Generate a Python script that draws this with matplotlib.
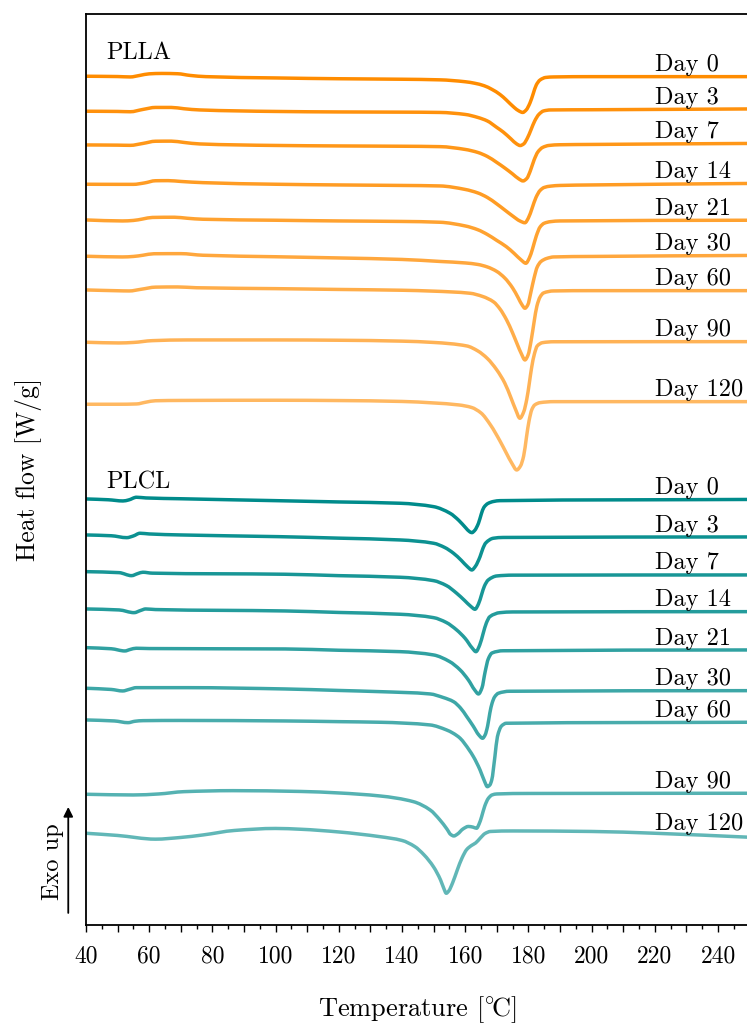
import numpy as np
import matplotlib
matplotlib.use("Agg")
import matplotlib.pyplot as plt
from matplotlib.ticker import MultipleLocator, FuncFormatter
from matplotlib.colors import to_rgb
from matplotlib.path import Path
from matplotlib.patches import PathPatch

plt.rcParams.update({
    "font.family": "serif",
    "font.serif": ["cmr10"],
    "mathtext.fontset": "cm",
    "axes.formatter.use_mathtext": True,
})

# ---------------------------------------------------------------------------
# DSC traces (temperature in degC, heat flow in W/g, already stacked)
# ---------------------------------------------------------------------------
day_labels = ["Day 0", "Day 3", "Day 7", "Day 14", "Day 21",
              "Day 30", "Day 60", "Day 90", "Day 120"]

# PLLA
plla_d0_T = [40, 50, 54, 57, 60, 64, 69, 73, 78, 100, 120, 140, 152, 160, 163, 166, 168.5, 171,
             173, 175.5, 177, 178.2, 179.3, 180.5, 181.5, 182.5, 183.7, 185.5, 188, 200, 250]
plla_d0_hf = [-0.763, -0.766, -0.770, -0.755, -0.739, -0.735, -0.738, -0.755, -0.767, -0.780,
              -0.788, -0.793, -0.799, -0.818, -0.833, -0.858, -0.895, -0.945, -1.00, -1.075,
              -1.11, -1.125, -1.10, -1.03, -0.94, -0.85, -0.80, -0.775, -0.77, -0.767, -0.767]

plla_d3_T = [40, 50, 54, 58, 62, 67, 71, 76, 100, 120, 140, 152, 160, 164, 167, 170, 172,
             174.5, 176.3, 177.4, 178.5, 179.7, 180.8, 182, 183.3, 184.8, 187, 200, 250]
plla_d3_hf = [-1.113, -1.115, -1.118, -1.095, -1.075, -1.075, -1.088, -1.100, -1.115, -1.120,
              -1.122, -1.125, -1.145, -1.175, -1.21, -1.275, -1.32, -1.39, -1.44, -1.456, -1.44,
              -1.38, -1.30, -1.21, -1.145, -1.11, -1.10, -1.098, -1.09]

plla_d7_T = [40, 50, 54, 58, 62, 67, 71, 76, 100, 120, 140, 152, 160, 164, 167, 170, 172.5,
             175, 177, 178.3, 179.5, 180.6, 181.8, 183, 184.5, 186.5, 190, 200, 250]
plla_d7_hf = [-1.450, -1.452, -1.454, -1.435, -1.413, -1.412, -1.425, -1.440, -1.455, -1.460,
              -1.463, -1.467, -1.495, -1.525, -1.565, -1.625, -1.68, -1.74, -1.79, -1.81,
              -1.785, -1.71, -1.60, -1.52, -1.475, -1.455, -1.448, -1.445, -1.435]

plla_d14_T = [40, 50, 55, 58.5, 62, 66, 70, 77, 100, 120, 140, 152, 160, 164, 167, 170, 172.5,
              175, 177.3, 178.9, 180, 181.2, 182.4, 183.7, 185, 187, 190, 200, 250]
plla_d14_hf = [-1.843, -1.844, -1.844, -1.830, -1.808, -1.807, -1.815, -1.827, -1.843, -1.850,
               -1.855, -1.860, -1.895, -1.93, -1.975, -2.04, -2.10, -2.16, -2.21, -2.228,
               -2.18, -2.08, -1.975, -1.905, -1.875, -1.862, -1.855, -1.85, -1.835]

plla_d21_T = [40, 51.5, 55, 58, 61, 68, 72, 77, 100, 120, 140, 152, 160, 164, 167, 170, 173,
              175.5, 177.7, 179.2, 180.3, 181.3, 182.5, 183.7, 185, 187, 190, 250]
plla_d21_hf = [-2.200, -2.210, -2.205, -2.190, -2.175, -2.173, -2.183, -2.193, -2.203, -2.210,
               -2.215, -2.223, -2.26, -2.298, -2.345, -2.405, -2.467, -2.535, -2.60, -2.633,
               -2.58, -2.49, -2.36, -2.27, -2.233, -2.217, -2.21, -2.203]

plla_d30_T = [40, 51.5, 55, 58, 61.5, 70, 77, 100, 120, 140, 152, 160, 164, 167, 170, 172.5,
              175, 176.8, 178.1, 178.9, 179.8, 180.8, 181.8, 182.8, 184, 185.8, 188, 200, 250]
plla_d30_hf = [-2.563, -2.570, -2.565, -2.553, -2.538, -2.537, -2.553, -2.568, -2.580, -2.595,
               -2.615, -2.630, -2.645, -2.67, -2.715, -2.78, -2.88, -2.98, -3.055, -3.083,
               -3.05, -2.92, -2.78, -2.67, -2.615, -2.585, -2.57, -2.565, -2.555]

plla_d60_T = [40, 50, 53.7, 57.5, 62, 69, 75, 100, 120, 140, 150, 161.5, 165.5, 169, 171, 173.1,
              175, 176.5, 177.8, 178.9, 179.9, 180.9, 181.8, 182.7, 183.7, 184.8, 187.9, 200, 250]
plla_d60_hf = [-2.900, -2.908, -2.910, -2.893, -2.872, -2.870, -2.878, -2.887, -2.895, -2.903,
               -2.912, -2.933, -2.965, -3.02, -3.09, -3.20, -3.33, -3.445, -3.54, -3.60,
               -3.55, -3.40, -3.22, -3.06, -2.97, -2.93, -2.91, -2.907, -2.907]

plla_d90_T = [40, 50.4, 55, 61, 72, 100, 120, 140, 150, 160.5, 164, 167, 170, 172.5, 174.5, 176,
              177.3, 178.5, 179.5, 180.3, 181, 181.9, 182.8, 184.5, 188, 250]
plla_d90_hf = [-3.423, -3.430, -3.425, -3.407, -3.400, -3.400, -3.403, -3.412, -3.425, -3.46,
               -3.51, -3.585, -3.70, -3.83, -3.98, -4.10, -4.183, -4.12, -3.99, -3.83, -3.68,
               -3.54, -3.46, -3.427, -3.418, -3.417]

plla_d120_T = [40, 50, 56, 59, 62, 70, 100, 120, 140, 150, 158, 162, 165, 168, 171, 173, 174.8,
               176.3, 177.5, 178.5, 179.4, 180.2, 181.1, 182, 183.7, 188, 250]
plla_d120_hf = [-4.043, -4.043, -4.040, -4.022, -4.008, -4.005, -4.003, -4.006, -4.015, -4.030,
                -4.05, -4.075, -4.13, -4.25, -4.41, -4.53, -4.635, -4.70, -4.66, -4.56, -4.37,
                -4.21, -4.095, -4.05, -4.027, -4.017, -4.017]

# PLCL
plcl_d0_T = [40, 47, 51.7, 53.5, 56, 59, 70, 100, 120, 139.4, 150, 155.2, 158, 160.2, 161.3,
             162.1, 163, 164.2, 165.1, 165.9, 167.2, 169, 171, 250]
plcl_d0_hf = [-4.990, -4.998, -5.010, -5.000, -4.973, -4.980, -4.988, -5.007, -5.020, -5.033,
              -5.067, -5.133, -5.205, -5.28, -5.315, -5.327, -5.305, -5.233, -5.14, -5.075,
              -5.035, -5.015, -5.007, -4.995]

plcl_d3_T = [40, 48, 52.9, 55, 57.1, 60, 70, 101, 120, 139.4, 150, 153.5, 156.3, 158.8, 160.8,
             162.1, 163.2, 164.7, 165.6, 166.5, 168.9, 172, 250]
plcl_d3_hf = [-5.350, -5.358, -5.377, -5.360, -5.333, -5.340, -5.350, -5.367, -5.382, -5.400,
              -5.433, -5.475, -5.533, -5.605, -5.67, -5.70, -5.665, -5.567, -5.485, -5.43,
              -5.383, -5.375, -5.37]

plcl_d7_T = [40, 50.5, 54.4, 56.5, 58, 61, 103, 120, 139.4, 150, 154, 157.3, 159.8, 161.8, 163.1,
             164.2, 165.2, 166.1, 167.3, 170, 175, 250]
plcl_d7_hf = [-5.717, -5.727, -5.757, -5.735, -5.723, -5.732, -5.743, -5.757, -5.773, -5.807,
              -5.855, -5.933, -6.005, -6.065, -6.093, -6.04, -5.945, -5.86, -5.80, -5.76,
              -5.752, -5.75]

plcl_d14_T = [40, 50.5, 55.2, 57.3, 58.9, 62, 103, 120, 139.4, 150, 154, 157.3, 160, 162.2,
              163.4, 164.6, 165.7, 166.7, 167.8, 171, 175, 250]
plcl_d14_hf = [-6.090, -6.100, -6.127, -6.105, -6.090, -6.096, -6.110, -6.125, -6.143, -6.177,
               -6.225, -6.30, -6.385, -6.48, -6.517, -6.45, -6.333, -6.23, -6.167, -6.127,
               -6.12, -6.117]

plcl_d21_T = [40, 48, 52.3, 54, 55.9, 60, 103, 120, 139.4, 150, 155, 158.4, 161, 163, 164.2,
              165.3, 166.3, 167.3, 168.5, 172, 250]
plcl_d21_hf = [-6.477, -6.488, -6.510, -6.495, -6.483, -6.486, -6.490, -6.503, -6.517, -6.550,
               -6.615, -6.70, -6.80, -6.90, -6.94, -6.88, -6.72, -6.59, -6.53, -6.508, -6.50]

plcl_d30_T = [40, 48, 51.6, 53.8, 55.9, 72, 103, 120, 133, 148.9, 153, 156.3, 158.5, 160.5,
              162.5, 164.3, 165.5, 166.3, 167.1, 167.8, 168.5, 169.3, 170.5, 174, 250]
plcl_d30_hf = [-6.883, -6.895, -6.910, -6.893, -6.877, -6.877, -6.890, -6.905, -6.917, -6.940,
               -6.975, -7.017, -7.08, -7.167, -7.26, -7.35, -7.383, -7.35, -7.26, -7.13,
               -7.033, -6.97, -6.933, -6.913, -6.907]

plcl_d60_T = [40, 49, 53.3, 55.5, 58, 70, 103, 120, 133, 148.9, 154.1, 156.2, 158.4, 159.9,
              162.6, 164.7, 166.2, 167, 167.8, 168.4, 169.4, 170.2, 171.5, 173, 250]
plcl_d60_hf = [-7.200, -7.210, -7.227, -7.213, -7.207, -7.205, -7.210, -7.217, -7.223, -7.250,
               -7.300, -7.333, -7.383, -7.44, -7.567, -7.70, -7.82, -7.867, -7.85, -7.80,
               -7.567, -7.367, -7.26, -7.233, -7.223]

plcl_d90_T = [40, 55, 63, 71, 86.5, 108, 120, 133, 143.6, 148.9, 152, 154.2, 155.4, 156.4,
              157.6, 159.3, 161, 162.5, 163.6, 164.4, 165.2, 166.2, 167.3, 168.5, 170, 180, 250]
plcl_d90_hf = [-7.943, -7.950, -7.940, -7.917, -7.907, -7.915, -7.930, -7.960, -8.017, -8.10,
               -8.20, -8.29, -8.345, -8.36, -8.34, -8.29, -8.265, -8.272, -8.283, -8.24,
               -8.167, -8.06, -7.985, -7.95, -7.94, -7.935, -7.933]

plcl_d120_T = [40, 50, 62, 70, 77, 87, 100, 108, 120, 133, 140, 144, 147, 150, 152.2, 153.3,
               154, 154.8, 156, 157.5, 159, 160.5, 162, 163.3, 164.8, 166.3, 168, 175, 200,
               220, 250]
plcl_d120_hf = [-8.333, -8.355, -8.392, -8.375, -8.350, -8.305, -8.285, -8.293, -8.320, -8.367,
                -8.405, -8.465, -8.55, -8.67, -8.80, -8.89, -8.933, -8.91, -8.83, -8.70,
                -8.58, -8.495, -8.455, -8.43, -8.38, -8.335, -8.315, -8.31, -8.315, -8.333,
                -8.373]

plla_T = [plla_d0_T, plla_d3_T, plla_d7_T, plla_d14_T, plla_d21_T,
          plla_d30_T, plla_d60_T, plla_d90_T, plla_d120_T]
plla_hf = [plla_d0_hf, plla_d3_hf, plla_d7_hf, plla_d14_hf, plla_d21_hf,
           plla_d30_hf, plla_d60_hf, plla_d90_hf, plla_d120_hf]
plcl_T = [plcl_d0_T, plcl_d3_T, plcl_d7_T, plcl_d14_T, plcl_d21_T,
          plcl_d30_T, plcl_d60_T, plcl_d90_T, plcl_d120_T]
plcl_hf = [plcl_d0_hf, plcl_d3_hf, plcl_d7_hf, plcl_d14_hf, plcl_d21_hf,
           plcl_d30_hf, plcl_d60_hf, plcl_d90_hf, plcl_d120_hf]


# ---------------------------------------------------------------------------
# Helpers
# ---------------------------------------------------------------------------
def shade(base, frac):
    """Blend a colour towards white by the given fraction."""
    rgb = np.array(to_rgb(base))
    return tuple(rgb + (1.0 - rgb) * frac)


def monotone_slopes(x, y):
    """Fritsch-Carlson tangents, so the drawn curve never overshoots."""
    h = np.diff(x)
    d = np.diff(y) / h
    m = np.empty_like(y)
    m[0], m[-1] = d[0], d[-1]
    for i in range(1, len(y) - 1):
        if d[i - 1] * d[i] <= 0:
            m[i] = 0.0
        else:
            w1 = 2 * h[i] + h[i - 1]
            w2 = h[i] + 2 * h[i - 1]
            m[i] = (w1 + w2) / (w1 / d[i - 1] + w2 / d[i])
    return m


def trace_path(T, hf):
    """Bezier path through the recorded points (smooth trace rendering)."""
    x = np.asarray(T, float)
    y = np.asarray(hf, float)
    m = monotone_slopes(x, y)
    verts = [(x[0], y[0])]
    codes = [Path.MOVETO]
    for i in range(len(x) - 1):
        h = x[i + 1] - x[i]
        verts += [(x[i] + h / 3, y[i] + m[i] * h / 3),
                  (x[i + 1] - h / 3, y[i + 1] - m[i + 1] * h / 3),
                  (x[i + 1], y[i + 1])]
        codes += [Path.CURVE4] * 3
    return Path(verts, codes)


# ---------------------------------------------------------------------------
# Figure
# ---------------------------------------------------------------------------
fig = plt.figure(figsize=(7.47, 10.25), dpi=100)
ax = fig.add_axes([0.1151, 0.0976, 0.8884, 0.8888])

fades = np.linspace(0.0, 0.38, len(day_labels))
groups = [("PLLA", plla_T, plla_hf, "#FF8C00", -0.525),
          ("PLCL", plcl_T, plcl_hf, "#008B8B", -4.82)]

FS = 17.5
for name, Ts, hfs, base, name_y in groups:
    for label, T, hf, f in zip(day_labels, Ts, hfs, fades):
        ax.add_patch(PathPatch(trace_path(T, hf), fill=False, edgecolor=shade(base, f),
                               lw=2.5, joinstyle="round", capstyle="round", zorder=2))
        y_lab = np.interp(235, T, hf) + 0.055
        ax.text(220, y_lab, label, fontsize=FS, ha="left", va="baseline")
    ax.text(46.3, name_y, name, fontsize=FS, ha="left", va="center")

ax.set_xlim(40, 250)
ax.set_ylim(-9.25, -0.14)
ax.set_yticks([])
ax.spines["right"].set_visible(False)
for s in ("left", "bottom", "top"):
    ax.spines[s].set_linewidth(1.3)

ax.xaxis.set_major_locator(MultipleLocator(10))
ax.xaxis.set_minor_locator(MultipleLocator(5))
ax.xaxis.set_major_formatter(FuncFormatter(lambda v, p: f"{v:.0f}" if round(v) % 20 == 0 else ""))
ax.tick_params(axis="x", which="major", length=5, width=1.0, direction="out", pad=10,
               labelsize=17)
ax.tick_params(axis="x", which="minor", length=3, width=1.0, direction="out")

ax.set_xlabel(r"Temperature [$^{\circ}\!$C]", fontsize=19, labelpad=19)
ax.set_ylabel("Heat flow [W/g]", fontsize=18.5, labelpad=32)

# exothermic direction indicator
ax.annotate("", xy=(-0.0267, 0.1295), xytext=(-0.0267, 0.0132),
            xycoords="axes fraction", textcoords="axes fraction",
            arrowprops=dict(arrowstyle="-|>", color="black", lw=1.3,
                            mutation_scale=14, shrinkA=0, shrinkB=0),
            annotation_clip=False)
ax.text(-0.050, 0.0692, "Exo up", transform=ax.transAxes, rotation=90,
        fontsize=FS, ha="center", va="center")

fig.savefig("out.png", dpi=100)
